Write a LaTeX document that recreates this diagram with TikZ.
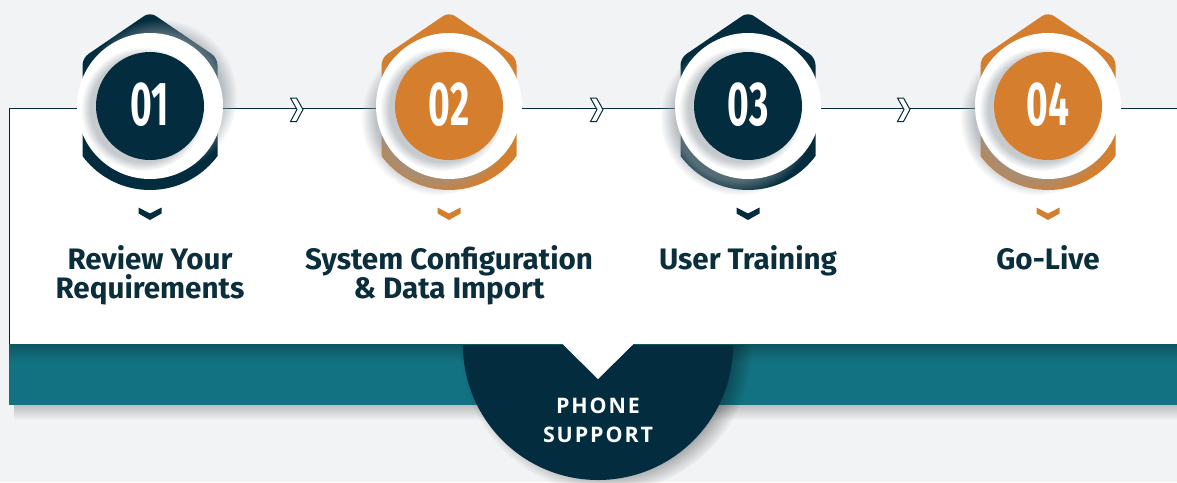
\documentclass[tikz,border=0pt]{standalone}
\usepackage{fontspec}
\setmainfont{Fira Sans}
\newfontfamily\numfont{Fira Sans}
\newfontfamily\capsfont[LetterSpace=9]{Open Sans}
\usetikzlibrary{fadings}
\definecolor{bg}{HTML}{F2F3F5}
\definecolor{navy}{HTML}{032D3E}
\definecolor{txtnavy}{HTML}{0B2E3D}
\definecolor{accorange}{HTML}{D47E2E}
\definecolor{bandteal}{HTML}{137282}
\definecolor{bandtop}{HTML}{0E5762}
\definecolor{shadowcol}{HTML}{8E979E}
\tikzset{
  title/.style={anchor=base, text=txtnavy, font=\bfseries\fontsize{29.6}{29.6}\selectfont},
  numtext/.style={anchor=base, text=white, font=\numfont\bfseries\fontsize{62}{62}\selectfont},
  caps/.style={anchor=base, text=white, font=\capsfont\bfseries\fontsize{21.4}{21.4}\selectfont},
  arrowchev/.style={draw=navy, fill=white, line width=1pt, line join=miter},
}
\begin{document}
\begin{tikzpicture}[x=1pt,y=-1pt]
\useasboundingbox (0,0) rectangle (1177,482);
\fill[bg] (0,0) rectangle (1177,482);
% band shadow
\shade[top color=black!22!bg, bottom color=bg] (14,405) rectangle (1177,420);
% teal band
\fill[bandteal] (9,344.5) rectangle (1177,405);
\shade[top color=bandtop, bottom color=bandteal] (9,344.5) rectangle (1177,362);
% semicircle shadow
\begin{scope}
  \clip (380,345) rectangle (820,482);
  \fill[black, opacity=0.35, path fading=circle with fuzzy edge 15 percent] (606,347) circle (146);
  \fill[navy] (598,345) circle (135);
\end{scope}
% white panel with pointer
\fill[white] (9,108.5) -- (1177,108.5) -- (1177,344.5) -- (633,344.5) -- (598,379) -- (563,344.5) -- (9,344.5) -- cycle;
\draw[navy!80!black, line width=0.8pt] (9,344.5) -- (9,108.5);
\draw[navy, line width=1.2pt] (9,108.5) -- (1177,108.5);
\draw[bandtop, line width=0.8pt] (9,344.8) -- (563,344.8) (633,344.8) -- (1177,344.8);
% arrow chevrons between steps
\foreach \ax in {297,597,904} {
  \draw[arrowchev] (\ax-6.5,98) -- (\ax-0.5,98) -- (\ax+6,109.5) -- (\ax-0.5,121.5) -- (\ax-6.5,121.5) -- (\ax,109.5) -- cycle;
}
% steps
\foreach \cx/\col/\num/\sx/\sy in {150/navy/01/10/-10, 449/accorange/02/-11/12, 748/navy/03/-11/12, 1048/accorange/04/-11/12} {
  \fill[\col, rounded corners=7pt] (\cx-67.5,106) -- (\cx-67.5,58) -- (\cx,12) -- (\cx+67.5,58) -- (\cx+67.5,106) -- cycle;
  \begin{scope}
    \clip (\cx-67.5,106) rectangle (\cx+67.5,200);
    \fill[\col] (\cx,106) circle (84);
  \end{scope}
  \fill[shadowcol, opacity=0.6, path fading=circle with fuzzy edge 20 percent] (\cx+\sx,106+\sy) circle (77);
  \fill[white] (\cx,106) circle (73);
  \fill[shadowcol, opacity=0.5, path fading=circle with fuzzy edge 15 percent] (\cx-7,109) circle (62);
  \fill[\col] (\cx,106) circle (54);
  \node[numtext] (num\num) at (\cx,125) {\scalebox{0.6}[1]{\num}};
  \fill[\col] (\cx-11.5,207.5) -- (\cx,213.5) -- (\cx+11.5,207.5) -- (\cx+11.5,213.5) -- (\cx,220) -- (\cx-11.5,213.5) -- cycle;
}
% titles
\node[title] (t1a) at (150,269) {Review Your};
\node[title] (t1b) at (150,298) {Requirements};
\node[title] (t2a) at (449,269) {System Configuration};
\node[title] (t2b) at (449,298) {\& Data Import};
\node[title] (t3) at (748,269) {User Training};
\node[title] (t4) at (1048,269) {Go-Live};
% phone support
\node[caps] (ph1) at (598,413) {PHONE};
\node[caps] (ph2) at (598,442) {SUPPORT};
\end{tikzpicture}
\end{document}
